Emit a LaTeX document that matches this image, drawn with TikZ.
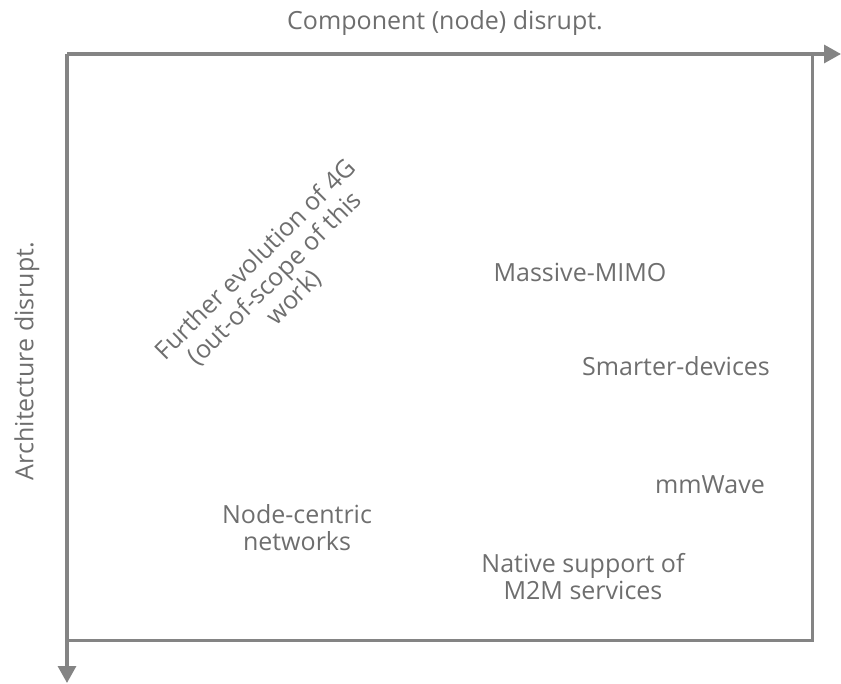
\documentclass[tikz,border=0pt]{standalone}
\usepackage{fontspec}
\setmainfont{Open Sans}
\usetikzlibrary{arrows.meta}
\definecolor{axisgray}{HTML}{848484}
\definecolor{txtgray}{HTML}{6E6E6E}
\begin{document}
\begin{tikzpicture}[x=1pt,y=-1pt,
  lbl/.style={text=txtgray,font=\fontsize{25}{27}\selectfont,align=center,inner sep=0pt},
  axis/.style={draw=axisgray,line width=3.2pt,-{Triangle[length=17pt,width=18pt]}},
  frame/.style={draw=axisgray,line width=3pt}]
\useasboundingbox (0,0) rectangle (841,684);
\coordinate (o) at (67,54);
\coordinate (xend) at (841,54);
\coordinate (yend) at (67,683);
\coordinate (c1) at (812,54);
\coordinate (c2) at (812,640);
\coordinate (c3) at (67,640);
\draw[frame] (c1) -- (c2) -- (c3);
\draw[axis] (o) -- (xend);
\draw[axis] (o) -- (yend);
\node[lbl] (xl) at (445,23) {Component (node) disrupt.};
\node[lbl,rotate=90] (yl) at (27,361) {Architecture disrupt.};
\node[lbl,rotate=45] (evo) at (275,279) {Further evolution of 4G\\(out-of-scope of this\\work)};
\node[lbl] (mimo) at (580,272) {Massive-MIMO};
\node[lbl] (smart) at (676,366) {Smarter-devices};
\node[lbl] (mmw) at (710,485) {mmWave};
\node[lbl] (node) at (297,528) {Node-centric\\networks};
\node[lbl] (m2m) at (583,577) {Native support of\\M2M services};
\end{tikzpicture}
\end{document}
